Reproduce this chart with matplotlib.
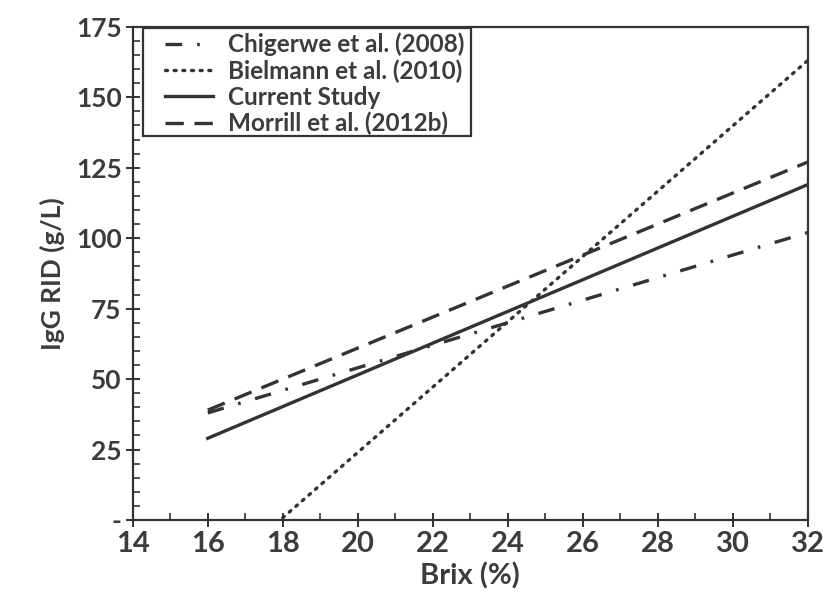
import matplotlib
matplotlib.use("Agg")
import matplotlib.pyplot as plt
from matplotlib.patches import Rectangle
from matplotlib.ticker import MultipleLocator, FuncFormatter

# Regression lines: IgG RID (g/L) at the start and end of each Brix range
chig_brix = [16, 32]
chig_igg = [38, 102]
biel_brix = [18, 32]
biel_igg = [0.8, 163]
curr_brix = [16, 32]
curr_igg = [29, 119]
morr_brix = [16, 32]
morr_igg = [39, 127]

x_ticks = [14, 16, 18, 20, 22, 24, 26, 28, 30, 32]
y_ticks = [0, 25, 50, 75, 100, 125, 150, 175]

ink = "#333333"
txt = "#3c3c3c"
plt.rcParams["font.family"] = ["Lato", "DejaVu Sans"]
plt.rcParams["font.weight"] = "bold"

fig = plt.figure(figsize=(8.3, 5.97), dpi=100)
ax = fig.add_axes([0.160, 0.129, 0.813, 0.826])

lw = 2.4
ax.plot(chig_brix, chig_igg, color=ink, lw=lw, dashes=(5, 4.5, 0.8, 4.5),
        label="Chigerwe et al. (2008)")
ax.plot(biel_brix, biel_igg, color=ink, lw=lw, dashes=(0.6, 2.0),
        dash_capstyle="round", label="Bielmann et al. (2010)")
ax.plot(curr_brix, curr_igg, color=ink, lw=lw, label="Current Study")
ax.plot(morr_brix, morr_igg, color=ink, lw=lw, dashes=(5.5, 3.2),
        label="Morrill et al. (2012b)")

ax.set_xlim(14, 32)
ax.set_ylim(0, 175)
ax.set_xticks(x_ticks)
ax.set_yticks(y_ticks)
ax.xaxis.set_minor_locator(MultipleLocator(1))
ax.yaxis.set_minor_locator(MultipleLocator(5))
ax.yaxis.set_major_formatter(FuncFormatter(lambda v, p: "-" if v == 0 else f"{v:.0f}"))

ax.tick_params(which="major", direction="inout", length=10, width=1.4,
               color=ink, labelcolor=txt)
ax.tick_params(which="minor", direction="in", length=5, width=1.2, color=ink)
ax.tick_params(axis="x", which="major", labelsize=21, pad=3)
ax.tick_params(axis="y", which="major", labelsize=19, pad=3)

for s in ax.spines.values():
    s.set_color(ink)
    s.set_linewidth(1.6)

ax.set_xlabel("Brix (%)", fontsize=21, fontweight="bold", color=txt, labelpad=4)
ax.set_ylabel("IgG RID (g/L)", fontsize=19, fontweight="bold", color=txt, labelpad=8)

# Legend entries without their own frame; the box is drawn separately
leg = ax.legend(loc="upper left", bbox_to_anchor=(0.047, 0.988), fontsize=17.5,
                frameon=False, handlelength=2.0, borderpad=0,
                labelspacing=0.12, handletextpad=0.62, borderaxespad=0)
for t in leg.get_texts():
    t.set_color(txt)
    t.set_fontweight("bold")

ax.add_patch(Rectangle((0.0148, 0.779), 0.486, 0.219, transform=ax.transAxes,
                       fill=False, edgecolor=ink, linewidth=1.6, zorder=5))

fig.savefig("out.png", dpi=100)
